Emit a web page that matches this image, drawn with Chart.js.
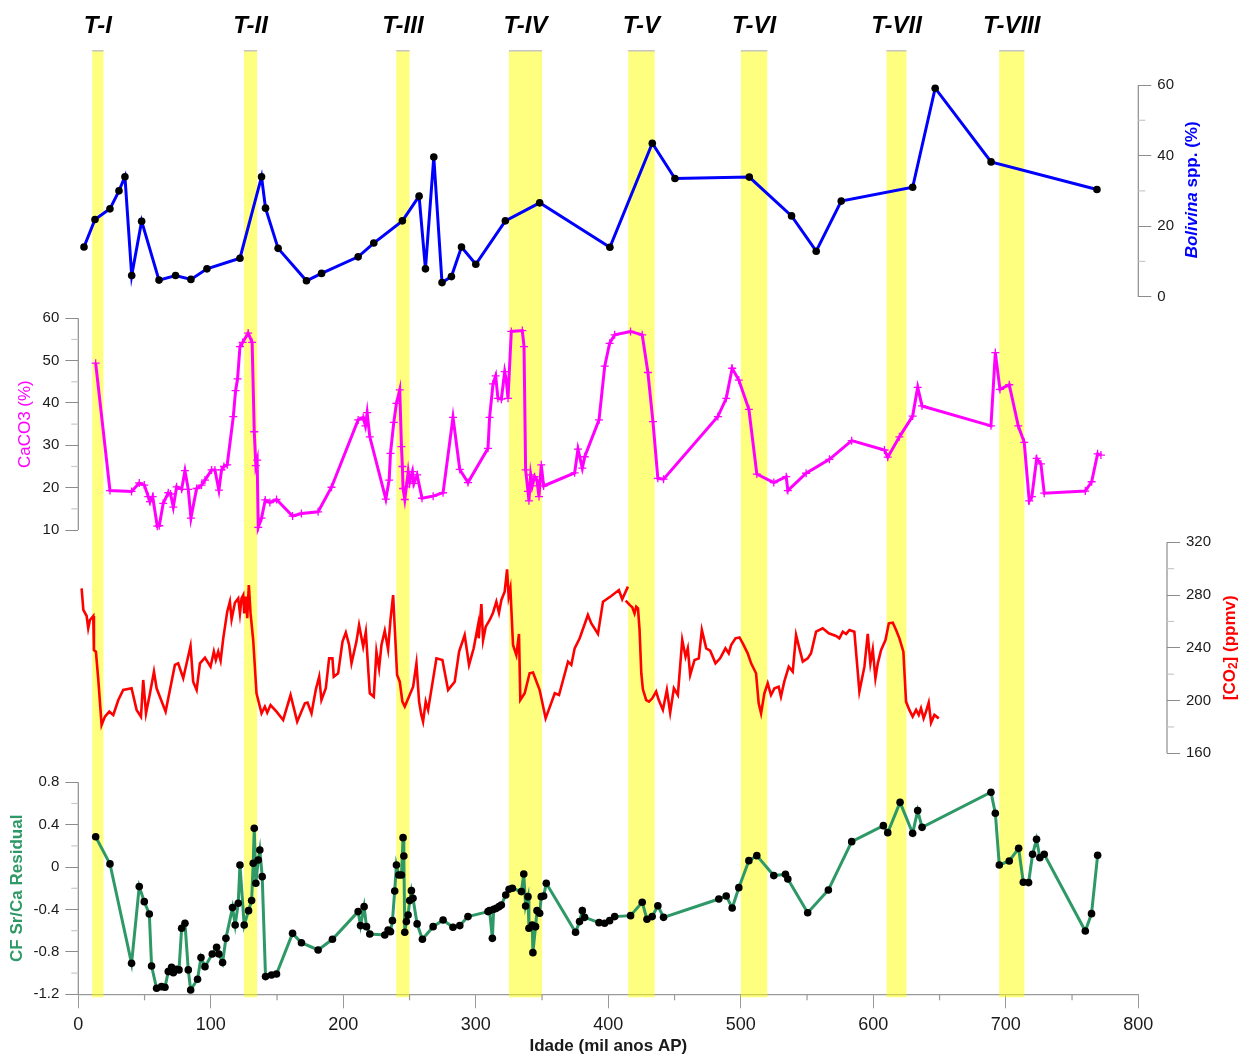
<!DOCTYPE html>
<html>
<head>
<meta charset="utf-8">
<script src="https://cdn.jsdelivr.net/npm/chart.js@4.4.1/dist/chart.umd.min.js"></script>
<style>
  html, body { margin: 0; padding: 0; background: #fff; }
  #wrap { width: 1239px; height: 1057px; position: relative; }
</style>
</head>
<body>
<div id="wrap"><canvas id="proxies"></canvas></div>
<script>
// glacial terminations (ka)
var termNames = ["T-I", "T-II", "T-III", "T-IV", "T-V", "T-VI", "T-VII", "T-VIII"];
var termStart = [10.5, 125, 240, 325, 415, 500, 610, 695];
var termEnd = [19, 135, 250, 350, 435, 520, 625, 714];

// Bolivina spp. (%)
var bolAge = [4.3, 12.6, 23.9, 30.7, 35.2, 40.3, 47.8, 60.9, 73.4, 85.0, 97.1, 122.0, 138.3, 141.3, 150.8,
  172.2, 183.6, 211.2, 223.0, 244.6, 257.2, 262.0, 268.3, 274.5, 281.6, 289.2, 300.0, 322.3, 348.2,
  401.2, 433.2, 450.3, 506.4, 538.3, 556.9, 575.8, 629.7, 646.7, 688.9, 768.8];
var bolPct = [14.1, 21.9, 24.9, 30.0, 34.0, 6.0, 21.4, 4.7, 6.0, 4.9, 7.9, 10.9, 34.0, 25.1, 13.7,
  4.5, 6.6, 11.3, 15.2, 21.5, 28.5, 7.9, 39.6, 4.0, 5.7, 14.1, 9.2, 21.5, 26.6,
  14.0, 43.5, 33.5, 33.9, 22.9, 12.9, 27.1, 31.0, 59.1, 38.2, 30.4];

// CaCO3 (%)
var caAge = [13.1, 23.9, 40.2, 46.0, 49.8, 52.8, 54.1, 56.1, 59.6, 61.1, 64.1, 67.9, 69.6, 71.7, 74.2,
  78.0, 80.5, 83.0, 85.0, 89.3, 93.0, 95.6, 100.6, 103.1, 106.1, 108.1, 109.9, 112.4, 117.0, 118.7,
  120.2, 122.0, 124.0, 128.2, 131.2, 132.8, 134.0, 135.0, 135.8, 138.3, 141.1, 144.6, 149.6, 161.7,
  168.4, 181.0, 191.1, 211.2, 215.0, 216.7, 218.0, 220.0, 232.1, 234.6, 235.6, 238.1, 240.1, 242.6,
  243.9, 244.6, 245.1, 246.4, 247.6, 249.0, 250.1, 252.2, 253.2, 255.7, 259.4, 267.8, 275.3, 282.8,
  287.9, 294.1, 309.2, 310.4, 313.0, 315.0, 316.7, 319.3, 321.8, 323.0, 324.3, 326.8, 335.1, 336.4,
  337.6, 339.4, 340.1, 341.4, 342.6, 344.4, 346.1, 347.7, 349.4, 351.2, 374.6, 377.1, 380.4, 382.2,
  393.0, 397.3, 401.0, 404.8, 416.8, 425.6, 429.9, 433.7, 437.4, 441.7, 482.7, 489.0, 493.5, 498.5,
  506.1, 512.1, 524.9, 534.3, 535.5, 549.3, 566.9, 583.7, 608.4, 610.9, 619.7, 629.7, 633.5, 636.8,
  688.8, 692.1, 695.6, 702.6, 709.4, 713.9, 717.7, 719.7, 723.3, 726.5, 729.0, 760.0, 764.8, 769.3, 771.8];
var caPct = [49.4, 19.3, 19.1, 21.1, 20.6, 17.9, 16.7, 17.9, 10.9, 11.0, 16.3, 18.8, 18.5, 15.4, 20.2,
  19.6, 24.0, 19.6, 12.8, 19.8, 20.6, 21.8, 24.2, 24.2, 19.4, 24.2, 25.0, 25.4, 36.8, 42.9,
  45.7, 53.3, 54.3, 56.5, 54.3, 33.2, 25.2, 26.5, 10.6, 12.8, 17.1, 16.5, 17.2, 13.3,
  13.9, 14.3, 20.1, 36.0, 36.6, 34.6, 37.7, 32.0, 17.3, 21.8, 28.1, 35.4, 39.9, 43.1,
  29.7, 25.0, 19.8, 17.2, 20.2, 23.8, 21.4, 23.8, 21.0, 23.0, 17.5, 18.0, 18.8, 36.6,
  24.3, 21.2, 29.3, 36.6, 44.5, 46.4, 41.1, 40.9, 47.4, 45.4, 41.1, 56.9, 57.1, 53.3,
  24.2, 19.1, 16.9, 23.0, 20.4, 22.6, 21.8, 17.9, 25.4, 20.4, 23.5, 29.1, 24.6, 27.3,
  36.0, 48.7, 54.1, 56.1, 56.9, 56.1, 47.2, 35.6, 22.2, 22.0, 36.8, 41.1, 48.2, 45.4,
  38.5, 23.2, 21.2, 22.6, 19.3, 23.4, 26.7, 31.1, 28.9, 27.2, 32.0, 36.9, 43.7, 39.3,
  34.6, 51.9, 43.2, 44.3, 34.6, 30.7, 16.9, 17.9, 26.9, 25.6, 18.7, 19.2, 21.4, 28.0, 27.7];

// [CO2] (ppmv); null marks the gap between the two records
var co2Age = [2.5, 3.8, 6.3, 7.5, 8.8, 11.3, 11.8, 13.3, 15.1, 17.6, 20.1, 23.4, 26.4, 30.2, 33.9, 40.2,
  44.0, 47.3, 49.0, 51.1, 54.1, 57.1, 59.1, 65.9, 72.9, 75.4, 79.2, 84.7, 86.7, 89.3, 91.8, 95.6,
  99.8, 102.3, 103.8, 105.6, 107.4, 109.4, 112.4, 114.4, 115.7, 118.2, 120.7, 122.0, 123.2, 124.5,
  125.2, 126.5, 127.5, 128.7, 130.0, 132.0, 134.5, 138.3, 140.8, 142.6, 145.1, 149.6, 154.6, 160.2,
  165.2, 171.0, 173.0, 176.0, 179.3, 181.8, 183.5, 186.8, 189.3, 191.8, 192.8, 196.1, 199.4, 201.9,
  204.4, 206.2, 209.9, 211.9, 215.0, 217.0, 220.0, 223.0, 225.0, 227.0, 228.8, 231.3, 233.8, 235.6,
  237.6, 240.6, 242.6, 244.6, 246.4, 249.6, 252.7, 255.2, 257.2, 258.9, 260.2, 262.2, 264.0, 270.3,
  274.8, 279.1, 284.1, 287.4, 291.6, 294.9, 298.4, 301.7, 302.2, 304.2, 305.5, 307.5, 310.5, 313.0,
  315.5, 317.5, 319.3, 321.8, 323.6, 324.8, 326.1, 328.1, 330.6, 332.6, 333.6, 336.9, 340.6, 343.2,
  348.2, 352.7, 359.6, 362.8, 369.6, 372.1, 374.6, 378.4, 384.6, 387.1, 392.2, 396.0, 402.2, 408.0,
  410.5, 414.8, 414.0, 413.1, 416.1, 418.1, 419.8, 421.1, 422.4, 423.6, 424.9, 426.1, 428.6, 430.7,
  433.2, 436.1, 438.1, 441.2, 444.2, 446.7, 449.5, 452.5, 455.8, 458.3, 460.0, 461.8, 465.1, 468.3,
  470.6, 473.9, 476.9, 480.9, 484.4, 488.4, 490.9, 492.7, 496.0, 499.0, 501.5, 505.2, 507.8, 511.5,
  513.5, 515.3, 517.8, 520.3, 522.8, 525.4, 528.6, 530.3, 532.8, 536.2, 539.2, 541.7, 544.2, 546.8,
  550.5, 553.0, 556.8, 561.8, 566.4, 571.9, 574.4, 577.0, 579.5, 582.0, 585.7, 587.5, 589.5, 593.3,
  595.8, 597.8, 599.6, 601.6, 603.4, 605.9, 609.2, 611.7, 614.7, 617.2, 619.7, 622.7, 624.7, 627.2,
  629.7, 632.3, 634.3, 636.0, 638.0, 639.8, 641.8, 643.6, 646.1, 649.4];
var co2Ppmv = [285.1, 268.7, 264.1, 254.8, 261.1, 264.1, 238.3, 237.1, 215.6, 181.5, 187.8, 191.6, 189.1, 200.4, 208.0, 209.3,
  192.9, 187.8, 215.6, 190.3, 205.5, 221.9, 209.3, 191.6, 227.0, 228.2, 216.9, 241.4, 214.3, 208.0, 228.2, 232.5,
  225.7, 237.1, 230.8, 237.1, 230.3, 247.2, 267.4, 275.0, 261.6, 274.2, 277.5, 266.1, 277.5, 280.0,
  266.1, 278.8, 262.4, 287.6, 266.1, 245.9, 205.5, 190.3, 195.4, 190.8, 196.6, 191.6, 185.3, 204.2,
  184.0, 197.9, 198.4, 190.3, 208.5, 218.1, 200.4, 209.3, 232.0, 232.0, 218.1, 220.7, 244.7, 251.5,
  242.1, 228.2, 244.7, 257.3, 240.9, 252.2, 205.5, 202.9, 237.1, 224.4, 242.1, 253.0, 238.8, 261.1,
  280.0, 219.4, 214.3, 199.2, 195.4, 203.0, 210.5, 228.2, 199.2, 189.1, 184.0, 199.2, 192.9, 232.0,
  230.8, 208.0, 214.3, 237.1, 249.7, 227.0, 239.6, 257.3, 247.2, 273.2, 245.9, 256.0, 261.1, 266.6,
  275.0, 266.6, 276.3, 282.6, 299.5, 278.8, 285.1, 242.1, 234.5, 250.5, 200.4, 205.5, 220.7, 221.2,
  208.0, 186.5, 205.5, 204.2, 229.5, 227.0, 239.6, 247.2, 264.9, 258.6, 250.5, 275.0, 279.3, 283.8,
  276.8, 286.4, null, 275.7, 272.5, 270.7, 266.1, 271.2, 269.9, 253.5, 220.7, 208.5, 200.4, 199.2,
  201.7, 206.8, 200.4, 192.9, 208.0, 190.8, 209.3, 204.2, 245.9, 233.3, 239.6, 219.4, 230.8, 232.0,
  253.5, 239.6, 237.8, 228.2, 232.0, 239.6, 235.8, 242.1, 247.2, 247.9, 243.4, 235.8, 228.2, 220.7,
  197.9, 190.3, 205.5, 213.1, 204.2, 209.3, 210.5, 203.0, 214.3, 225.7, 221.9, 249.7, 239.6, 229.5,
  232.0, 235.8, 252.2, 254.8, 251.0, 249.0, 247.2, 252.2, 250.5, 253.5, 252.2, 230.8, 206.8, 225.7,
  250.5, 228.2, 238.8, 216.9, 228.2, 238.3, 245.9, 258.6, 259.1, 253.5, 247.2, 237.1, 199.2, 192.9,
  187.8, 192.9, 189.1, 194.1, 186.5, 191.6, 198.4, 183.2, 189.1, 186.5];

// CF Sr/Ca residual
var srAge = [13.1, 23.9, 40.2, 46.0, 49.8, 53.6, 55.3, 59.1, 62.8, 65.4, 67.9, 70.4, 71.7, 74.2, 76.0,
  78.0, 80.5, 83.0, 84.8, 90.0, 92.6, 95.6, 101.1, 104.4, 106.1, 108.9, 111.4, 116.4, 118.4, 120.7,
  122.0, 125.2, 128.5, 130.8, 132.0, 132.8, 134.0, 135.8, 137.0, 138.8, 141.3, 145.8, 149.6, 161.7,
  168.4, 181.0, 191.8, 211.2, 213.0, 215.7, 217.5, 220.0, 231.3, 233.8, 235.6, 237.1, 238.8, 240.1,
  241.9, 243.9, 245.1, 245.7, 246.4, 247.6, 248.9, 250.1, 251.4, 252.6, 255.7, 259.7, 267.8, 275.3,
  282.8, 287.9, 294.1, 309.2, 310.4, 312.5, 313.5, 315.5, 317.5, 319.3, 322.6, 325.1, 327.6, 334.4,
  336.2, 337.6, 339.4, 340.1, 342.6, 343.1, 345.1, 346.2, 348.2, 349.4, 351.2, 353.2, 375.3, 378.3,
  380.4, 382.1, 393.0, 397.2, 401.0, 404.8, 416.8, 425.6, 429.2, 433.1, 437.4, 441.7, 483.4, 489.0,
  493.5, 498.5, 506.1, 512.1, 524.9, 533.7, 535.5, 550.5, 566.1, 583.7, 607.6, 610.9, 620.2, 629.7,
  633.5, 636.8, 688.8, 692.1, 695.1, 702.6, 709.7, 713.2, 717.2, 720.2, 723.2, 725.7, 729.0, 760.0,
  764.7, 769.3];
var srResid = [0.287, 0.030, -0.908, -0.184, -0.326, -0.442, -0.933, -1.143, -1.128, -1.134, -0.986, -0.945, -0.996, -0.964, -0.970,
  -0.577, -0.530, -0.970, -1.159, -1.058, -0.854, -0.939, -0.820, -0.757, -0.820, -0.901, -0.672, -0.382, -0.546, -0.341,
  0.020, -0.546, -0.411, -0.316, 0.036, 0.366, -0.153, 0.067, 0.162, -0.090, -1.033, -1.018, -1.008, -0.625,
  -0.713, -0.782, -0.681, -0.420, -0.552, -0.373, -0.562, -0.631, -0.640, -0.593, -0.609, -0.505, -0.225, 0.020,
  -0.074, -0.074, 0.278, 0.105, -0.615, -0.514, -0.452, -0.316, -0.222, -0.294, -0.536, -0.681, -0.562, -0.499,
  -0.568, -0.552, -0.467, -0.420, -0.411, -0.672, -0.398, -0.389, -0.373, -0.357, -0.263, -0.209, -0.200, -0.231,
  -0.065, -0.367, -0.279, -0.577, -0.546, -0.807, -0.562, -0.411, -0.436, -0.279, -0.272, -0.153, -0.615, -0.514,
  -0.411, -0.474, -0.524, -0.530, -0.505, -0.467, -0.458, -0.332, -0.492, -0.467, -0.364, -0.474, -0.301, -0.272,
  -0.386, -0.194, 0.061, 0.108, -0.080, -0.068, -0.112, -0.430, -0.216, 0.240, 0.391, 0.325, 0.611, 0.319,
  0.533, 0.375, 0.706, 0.508, 0.020, 0.058, 0.177, -0.143, -0.146, 0.121, 0.262, 0.089, 0.121, -0.603,
  -0.439, 0.111];

// tick labels
var ageTicks = [0, 100, 200, 300, 400, 500, 600, 700, 800];
var bolTicks = [0, 20, 40, 60];
var caTicks = [10, 20, 30, 40, 50, 60];
var co2Ticks = [160, 200, 240, 280, 320];
var srTicks = [-1.2, -0.8, -0.4, 0, 0.4, 0.8];

Chart.defaults.font.family = "'Liberation Sans', Arial, sans-serif";

// each panel gets its own y scale stretched over the whole plot height,
// so its value range lands on the right vertical band
var plotTop = 50, plotBottom = 994.3;
function fitRange(vHi, pxHi, vLo, pxLo) {
  var k = (pxLo - pxHi) / (vHi - vLo);
  return { max: vHi + (pxHi - plotTop) / k, min: vLo - (plotBottom - pxLo) / k };
}

function pts(xs, ys) {
  return xs.map(function (x, i) { return { x: x, y: ys[i] }; });
}

function fmt(v) { return String(+Number(v).toFixed(2)); }

function yAxis(pos, weight, width, range, majors) {
  return {
    type: "linear", position: pos, weight: weight,
    min: range.min, max: range.max,
    border: { display: false },
    grid: { drawOnChartArea: false, drawTicks: true, tickLength: 13, color: "#8c8c8c" },
    ticks: { autoSkip: false, padding: 6, color: "#1a1a1a", font: { size: 15 }, callback: fmt },
    afterBuildTicks: function (s) { s.ticks = majors.map(function (v) { return { value: v }; }); },
    afterFit: function (s) { s.width = width; }
  };
}

var decor = [
  { id: "yBol", lo: 0, hi: 60, minor: [10, 30, 50], side: "right" },
  { id: "yCa", lo: 10, hi: 60, minor: [15, 25, 35, 45, 55], side: "left" },
  { id: "yCO2", lo: 160, hi: 320, minor: [180, 220, 260, 300], side: "right" },
  { id: "ySr", lo: -1.2, hi: 0.8, minor: [-1.0, -0.6, -0.2, 0.2, 0.6], side: "left" }
];

var panelsPlugin = {
  id: "panels",
  // the inner axes on each side are squeezed to a thin box; widen their
  // boxes after layout so their tick labels are not clipped
  afterLayout: function (chart) {
    var ca = chart.scales.yCa, bol = chart.scales.yBol;
    ca.left = 0; ca.width = ca.right;
    bol.right = chart.width; bol.width = bol.right - bol.left;
  },
  beforeDatasetsDraw: function (chart) {
    var ctx = chart.ctx, x = chart.scales.x, a = chart.chartArea;
    ctx.save();
    termStart.forEach(function (s, i) {
      var x0 = x.getPixelForValue(s), x1 = x.getPixelForValue(termEnd[i]);
      ctx.fillStyle = "rgba(255,255,0,0.5)";
      ctx.fillRect(x0, a.top, x1 - x0, a.bottom - a.top + 3);
      ctx.fillStyle = "#c4c4c4";
      ctx.fillRect(x0, a.top, x1 - x0, 1.5);
    });
    ctx.restore();
  },
  afterDraw: function (chart) {
    var ctx = chart.ctx, x = chart.scales.x, a = chart.chartArea;
    ctx.save();
    // y axis lines and minor ticks
    decor.forEach(function (d) {
      var s = chart.scales[d.id];
      var ax = d.side === "left" ? s.right : s.left;
      var dir = d.side === "left" ? -1 : 1;
      ctx.strokeStyle = "#8c8c8c";
      ctx.lineWidth = 1.2;
      ctx.beginPath();
      ctx.moveTo(ax, s.getPixelForValue(d.hi));
      ctx.lineTo(ax, s.getPixelForValue(d.lo));
      ctx.stroke();
      ctx.strokeStyle = "#c8c8c8";
      d.minor.forEach(function (v) {
        var py = s.getPixelForValue(v);
        ctx.beginPath();
        ctx.moveTo(ax, py);
        ctx.lineTo(ax + dir * 7, py);
        ctx.stroke();
      });
    });
    // x minor ticks
    ctx.strokeStyle = "#9a9a9a";
    for (var v = 50; v < 800; v += 100) {
      var px = x.getPixelForValue(v);
      ctx.beginPath();
      ctx.moveTo(px, a.bottom);
      ctx.lineTo(px, a.bottom + 6);
      ctx.stroke();
    }
    // termination labels
    ctx.fillStyle = "#000";
    ctx.font = "italic bold 24px 'Liberation Sans', Arial, sans-serif";
    ctx.textAlign = "center";
    ctx.textBaseline = "middle";
    termNames.forEach(function (n, i) {
      ctx.fillText(n, x.getPixelForValue((termStart[i] + termEnd[i]) / 2), 26);
    });
    // axis titles
    function vtext(cx, cy, parts) {
      ctx.save();
      ctx.translate(cx, cy);
      ctx.rotate(-Math.PI / 2);
      ctx.textAlign = "left";
      ctx.textBaseline = "middle";
      var w = 0;
      parts.forEach(function (p) { ctx.font = p.font; w += ctx.measureText(p.text).width; });
      var pos = -w / 2;
      parts.forEach(function (p) {
        ctx.font = p.font;
        ctx.fillStyle = p.color;
        ctx.fillText(p.text, pos, p.dy || 0);
        pos += ctx.measureText(p.text).width;
      });
      ctx.restore();
    }
    var fam = "'Liberation Sans', Arial, sans-serif";
    var bolY = chart.scales.yBol, caY = chart.scales.yCa, co2Y = chart.scales.yCO2, srY = chart.scales.ySr;
    vtext(1192, (bolY.getPixelForValue(0) + bolY.getPixelForValue(60)) / 2 - 1, [
      { text: "Bolivina", font: "italic bold 17px " + fam, color: "#0000ff" },
      { text: " spp. (%)", font: "bold 17px " + fam, color: "#0000ff" }
    ]);
    vtext(25, (caY.getPixelForValue(10) + caY.getPixelForValue(60)) / 2, [
      { text: "CaCO3 (%)", font: "17px " + fam, color: "#ff00ff" }
    ]);
    vtext(1230, (co2Y.getPixelForValue(160) + co2Y.getPixelForValue(320)) / 2, [
      { text: "[CO", font: "bold 17px " + fam, color: "#ff0000" },
      { text: "2", font: "bold 12px " + fam, color: "#ff0000", dy: 4 },
      { text: "] (ppmv)", font: "bold 17px " + fam, color: "#ff0000" }
    ]);
    vtext(17, (srY.getPixelForValue(-1.2) + srY.getPixelForValue(0.8)) / 2, [
      { text: "CF Sr/Ca Residual", font: "bold 17px " + fam, color: "#2e9966" }
    ]);
    ctx.restore();
  }
};

new Chart(document.getElementById("proxies"), {
  type: "line",
  data: {
    datasets: [
      {
        label: "Bolivina spp.", data: pts(bolAge, bolPct), yAxisID: "yBol",
        borderColor: "#0000ff", borderWidth: 3, pointRadius: 3.8, pointBackgroundColor: "#000",
        pointBorderWidth: 0
      },
      {
        label: "CaCO3", data: pts(caAge, caPct), yAxisID: "yCa",
        borderColor: "#ff00ff", borderWidth: 3, pointStyle: "cross", pointRadius: 4,
        pointBorderColor: "#ff00ff", pointBorderWidth: 1.3
      },
      {
        label: "CO2", data: pts(co2Age, co2Ppmv), yAxisID: "yCO2",
        borderColor: "#ff0000", borderWidth: 2.6, pointRadius: 0, spanGaps: false
      },
      {
        label: "CF Sr/Ca", data: pts(srAge, srResid), yAxisID: "ySr",
        borderColor: "#2e9966", borderWidth: 3, pointRadius: 3.8, pointBackgroundColor: "#000",
        pointBorderWidth: 0
      }
    ]
  },
  options: {
    responsive: true,
    maintainAspectRatio: false,
    animation: false,
    layout: { padding: { top: plotTop, left: 0, right: 0, bottom: 0 } },
    plugins: { legend: { display: false }, tooltip: { enabled: false } },
    elements: { line: { tension: 0 } },
    scales: {
      x: {
        type: "linear", position: "bottom", min: 0, max: 800,
        border: { display: true, color: "#9a9a9a", width: 1.2 },
        grid: { drawOnChartArea: false, tickLength: 14, color: "#9a9a9a" },
        ticks: { color: "#1a1a1a", padding: 6, maxRotation: 0, font: { size: 18 } },
        afterBuildTicks: function (s) { s.ticks = ageTicks.map(function (v) { return { value: v }; }); },
        title: {
          display: true, text: "Idade (mil anos AP)", color: "#1a1a1a",
          font: { size: 17, weight: "bold" }, padding: { top: 0, bottom: 0 }
        },
        afterFit: function (s) { s.height = 1057 - plotBottom; }
      },
      yBol: yAxis("right", 0, 28.7, fitRange(60, 85, 0, 296.7), bolTicks),
      yCO2: yAxis("right", 1, 72, fitRange(320, 542.3, 160, 753.3), co2Ticks),
      yCa: yAxis("left", 0, 0, fitRange(60, 318.3, 10, 530), caTicks),
      ySr: yAxis("left", 1, 78.3, fitRange(0.8, 782.3, -1.2, 994.3), srTicks)
    }
  },
  plugins: [panelsPlugin]
});
</script>
</body>
</html>
